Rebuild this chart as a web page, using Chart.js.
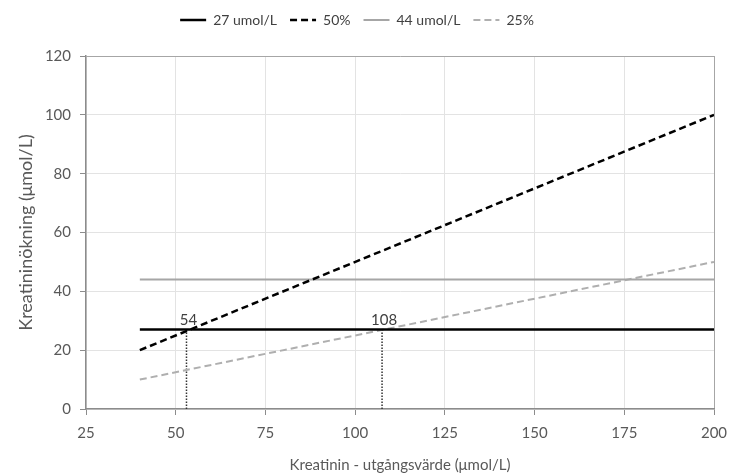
<!DOCTYPE html>
<html>
<head>
<meta charset="utf-8">
<script src="https://cdn.jsdelivr.net/npm/chart.js@4.4.1/dist/chart.umd.min.js"></script>
<style>
  html, body { margin: 0; padding: 0; background: #ffffff; }
  #wrap { width: 733px; height: 474px; position: relative; }
</style>
</head>
<body>
<div id="wrap"><canvas id="c" width="733" height="474"></canvas></div>
<script>
// ---- Data ----
const seriesNames = ['27 umol/L', '50%', '44 umol/L', '25%'];
const lineX = [40, 200];
const abs27 = [27, 27];
const rel50 = [20, 100];
const abs44 = [44, 44];
const rel25 = [10, 50];
const markerX = [53, 107.5];
const markerTopY = [27, 27];
const markerLabels = ['54', '108'];
const xTicks = [25, 50, 75, 100, 125, 150, 175, 200];
const yTicks = [0, 20, 40, 60, 80, 100, 120];

const FONT = 'Lato, "Open Sans", sans-serif';
const toPts = (xs, ys) => xs.map((x, i) => ({ x: x, y: ys[i] }));

const datasets = [
  { label: seriesNames[0], data: toPts(lineX, abs27), borderColor: '#000000', borderWidth: 2.5, borderDash: [] },
  { label: seriesNames[1], data: toPts(lineX, rel50), borderColor: '#000000', borderWidth: 2.5, borderDash: [7, 4] },
  { label: seriesNames[2], data: toPts(lineX, abs44), borderColor: '#a6a6a6', borderWidth: 2, borderDash: [] },
  { label: seriesNames[3], data: toPts(lineX, rel25), borderColor: '#afafaf', borderWidth: 2, borderDash: [7, 4] }
];
markerX.forEach((mx, i) => {
  datasets.push({
    label: 'marker' + markerLabels[i],
    data: [{ x: mx, y: 0 }, { x: mx, y: markerTopY[i] }],
    borderColor: '#333333', borderWidth: 1.5, borderDash: [1.5, 1.5]
  });
});
datasets.forEach(d => { d.pointRadius = 0; d.pointHoverRadius = 0; d.fill = false; d.tension = 0; d.backgroundColor = d.borderColor; });

const markerLabelPlugin = {
  id: 'markerLabels',
  afterDatasetsDraw(chart) {
    const ctx = chart.ctx, xs = chart.scales.x, ys = chart.scales.y;
    ctx.save();
    ctx.font = '15px ' + FONT;
    ctx.fillStyle = '#404040';
    ctx.textAlign = 'center';
    ctx.textBaseline = 'bottom';
    markerX.forEach((mx, i) => {
      ctx.fillText(markerLabels[i], xs.getPixelForValue(mx) + 2, ys.getPixelForValue(markerTopY[i]) - 2);
    });
    ctx.restore();
  }
};

const legendSpacer = {
  id: 'legendSpacer',
  beforeInit(chart) {
    const lg = chart.legend;
    if (!lg) return;
    const origFit = lg.fit;
    lg.fit = function () { origFit.bind(lg)(); this.height += 19; };
  }
};

new Chart(document.getElementById('c'), {
  type: 'line',
  data: { datasets: datasets },
  plugins: [markerLabelPlugin, legendSpacer],
  options: {
    responsive: false,
    animation: false,
    layout: { padding: { top: 0, right: 19, left: 0, bottom: 0 } },
    plugins: {
      tooltip: { enabled: false },
      legend: {
        position: 'top',
        labels: {
          filter: item => item.text.indexOf('marker') !== 0,
          generateLabels: chart => {
            const items = Chart.defaults.plugins.legend.labels.generateLabels(chart);
            items.forEach(it => {
              const ds = chart.data.datasets[it.datasetIndex];
              it.lineDash = ds.borderDash;
              it.lineWidth = ds.borderWidth;
              it.strokeStyle = ds.borderColor;
            });
            return items;
          },
          usePointStyle: true,
          pointStyle: 'line',
          pointStyleWidth: 26,
          boxHeight: 14,
          font: { family: FONT, size: 14 },
          color: '#404040',
          padding: 13
        }
      }
    },
    scales: {
      x: {
        type: 'linear',
        min: 25, max: 200,
        afterBuildTicks: s => { s.ticks = xTicks.map(v => ({ value: v })); },
        afterFit: s => { s.height = 65; s.paddingRight = 0; },
        grid: {
          color: ctx => (ctx.tick && ctx.tick.value === 200) ? '#a6a6a6' : '#e3e3e3',
          lineWidth: 1,
          tickColor: '#8c8c8c',
          tickLength: 6
        },
        border: { color: '#8c8c8c', width: 1.5 },
        ticks: { font: { family: FONT, size: 15 }, color: '#595959', padding: 9, maxRotation: 0 },
        title: { display: true, text: 'Kreatinin - utgångsvärde (μmol/L)', font: { family: FONT, size: 15 }, color: '#595959', padding: { top: 4, bottom: 0 } }
      },
      y: {
        type: 'linear',
        min: 0, max: 120,
        afterBuildTicks: s => { s.ticks = yTicks.map(v => ({ value: v })); },
        afterFit: s => { s.width = 86; },
        grid: {
          color: ctx => (ctx.tick && ctx.tick.value === 120) ? '#a6a6a6' : '#e3e3e3',
          lineWidth: 1,
          tickColor: '#8c8c8c',
          tickLength: 6
        },
        border: { color: '#8c8c8c', width: 1.5 },
        ticks: { font: { family: FONT, size: 15 }, color: '#595959', padding: 9 },
        title: { display: true, text: 'Kreatininökning (μmol/L)', font: { family: FONT, size: 18 }, color: '#595959', padding: { top: 15, bottom: 0 } }
      }
    }
  }
});
</script>
</body>
</html>
